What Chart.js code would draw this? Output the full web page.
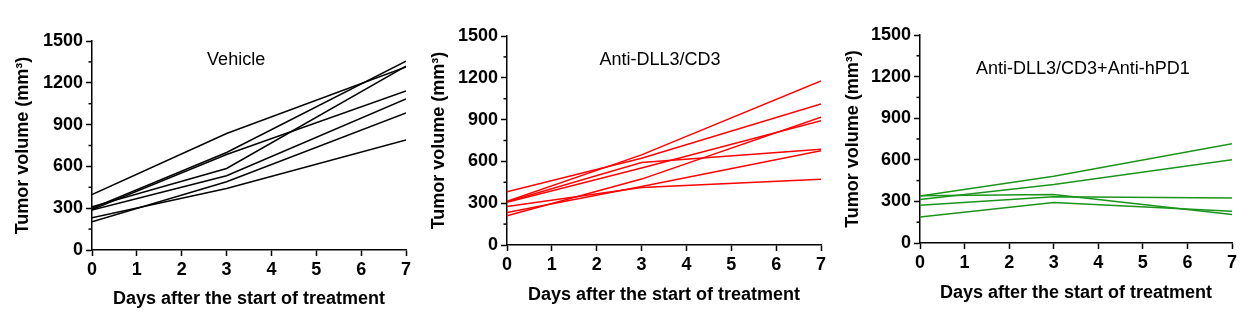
<!DOCTYPE html>
<html>
<head>
<meta charset="utf-8">
<script src="https://cdn.jsdelivr.net/npm/chart.js@4"></script>
<style>
  html, body { margin: 0; padding: 0; background: #fff; }
  body { width: 1252px; height: 336px; position: relative; overflow: hidden; }
  .panel { position: absolute; top: 0; }
</style>
</head>
<body>
<div class="panel" style="left:0px"><canvas id="vehicle" width="420" height="336"></canvas></div>
<div class="panel" style="left:420px"><canvas id="antiCd3" width="420" height="336"></canvas></div>
<div class="panel" style="left:840px"><canvas id="combo" width="412" height="336"></canvas></div>
<script>
// days when tumours were measured
const days = [0, 3, 7];
const xTicks = [0, 1, 2, 3, 4, 5, 6, 7];
const yTicks = [0, 300, 600, 900, 1200, 1500];

// one row per mouse, values at days 0 / 3 / 7 (mm3)
const vehicleMice = [
    [397, 836, 1313],
    [300, 700, 1356],
    [290, 685, 1141],
    [310, 585, 1320],
    [287, 533, 1084],
    [203, 490, 983],
    [232, 442, 789]
];
const antiCd3Mice = [
    [313, 647, 1177],
    [382, 623, 1012],
    [310, 592, 687],
    [306, 552, 892],
    [210, 473, 917],
    [234, 420, 677],
    [277, 413, 471]
];
const comboMice = [
    [338, 482, 716],
    [314, 422, 600],
    [340, 350, 205],
    [273, 333, 325],
    [188, 292, 229]
];

Chart.defaults.font.family = '"Liberation Sans", Arial, sans-serif';
Chart.defaults.color = '#000';

// short ticks halfway between the labelled ones on the y axis
const minorTicks = {
    id: 'minorTicks',
    afterDraw(chart) {
        const y = chart.scales.y;
        const ctx = chart.ctx;
        const x0 = chart.chartArea.left;
        ctx.save();
        ctx.strokeStyle = '#000';
        ctx.lineWidth = 1.5;
        for (let i = 0; i < yTicks.length - 1; i++) {
            const py = y.getPixelForValue((yTicks[i] + yTicks[i + 1]) / 2);
            ctx.beginPath();
            ctx.moveTo(x0 - 3.5, py);
            ctx.lineTo(x0, py);
            ctx.stroke();
        }
        ctx.restore();
    }
};

// group name written inside the plot
const panelTitle = {
    id: 'panelTitle',
    afterDraw(chart, args, opts) {
        const { ctx, chartArea } = chart;
        ctx.save();
        ctx.font = '18px "Liberation Sans", Arial, sans-serif';
        ctx.fillStyle = '#000';
        ctx.textAlign = 'center';
        ctx.textBaseline = 'middle';
        ctx.fillText(opts.text,
            chartArea.left + opts.fx * (chartArea.right - chartArea.left),
            chartArea.top + opts.dy);
        ctx.restore();
    }
};

function makePanel(id, title, mice, color, g) {
    const datasets = mice.map(m => ({
        data: days.map((d, i) => ({ x: d, y: m[i] })),
        borderColor: color,
        borderWidth: 1.5,
        pointRadius: 0,
        tension: 0,
        fill: false
    }));

    new Chart(document.getElementById(id), {
        type: 'line',
        data: { datasets },
        plugins: [minorTicks, panelTitle],
        options: {
            responsive: false,
            animation: false,
            layout: { padding: { left: g.left, top: g.top, right: g.right, bottom: 0 } },
            plugins: {
                legend: { display: false },
                tooltip: { enabled: false },
                panelTitle: { text: title, fx: g.fx, dy: g.dy }
            },
            scales: {
                x: {
                    type: 'linear',
                    min: 0,
                    max: 7,
                    afterBuildTicks: s => { s.ticks = xTicks.map(v => ({ value: v })); },
                    afterFit: s => { s.height = 336 - g.areaBottom; },
                    border: { display: true, color: '#000', width: 1.5 },
                    grid: { display: true, drawOnChartArea: false, tickLength: 6, tickColor: '#000', tickWidth: 1.5 },
                    ticks: { font: { size: 18, weight: 'bold' }, padding: 3, maxRotation: 0, callback: v => String(v) },
                    title: {
                        display: true,
                        text: 'Days after the start of treatment',
                        font: { size: 18, weight: 'bold' },
                        padding: { top: 0, bottom: g.xTitlePad }
                    }
                },
                y: {
                    min: 0,
                    max: 1500,
                    afterBuildTicks: s => { s.ticks = yTicks.map(v => ({ value: v })); },
                    afterFit: s => { s.width = g.areaLeft - g.left; },
                    border: { display: true, color: '#000', width: 1.5 },
                    grid: { display: true, drawOnChartArea: false, tickLength: 6, tickColor: '#000', tickWidth: 1.5 },
                    ticks: { font: { size: 18, weight: 'bold' }, padding: 3, callback: v => String(v) },
                    title: {
                        display: true,
                        text: 'Tumor volume (mm³)',
                        font: { size: 18, weight: 'bold' },
                        padding: 0
                    }
                }
            }
        }
    });
}

makePanel('vehicle', 'Vehicle', vehicleMice, '#000000',
    { left: 12, top: 41, right: 14, areaLeft: 92, areaBottom: 250, xTitlePad: 26, fx: 0.459, dy: 19 });
makePanel('antiCd3', 'Anti-DLL3/CD3', antiCd3Mice, '#ff0000',
    { left: 8, top: 36, right: 19, areaLeft: 87, areaBottom: 245, xTitlePad: 30, fx: 0.487, dy: 24.5 });
makePanel('combo', 'Anti-DLL3/CD3+Anti-hPD1', comboMice, '#1b941b',
    { left: 2, top: 35, right: 20, areaLeft: 80, areaBottom: 243, xTitlePad: 32, fx: 0.522, dy: 34 });
</script>
</body>
</html>
